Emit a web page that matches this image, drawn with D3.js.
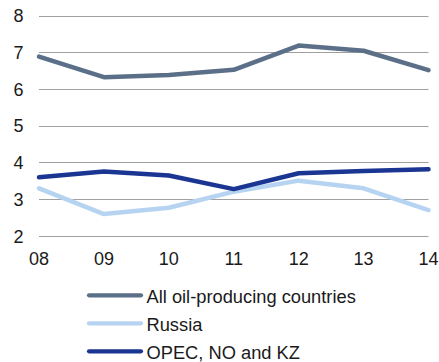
<!DOCTYPE html>
<html>
<head>
<meta charset="utf-8">
<script src="https://cdn.jsdelivr.net/npm/d3@7"></script>
<style>
  html, body { margin: 0; padding: 0; background: #fff; }
  svg text { font-family: "Liberation Sans", Arial, sans-serif; fill: #1a1a1a; }
</style>
</head>
<body>
<svg id="chart" width="439" height="362"></svg>
<script>
const years = ["08", "09", "10", "11", "12", "13", "14"];
const yTicks = [2, 3, 4, 5, 6, 7, 8];
const allOil = [6.88, 6.32, 6.38, 6.52, 7.18, 7.04, 6.51];
const russia = [3.29, 2.59, 2.76, 3.20, 3.50, 3.29, 2.70];
const opec = [3.59, 3.75, 3.64, 3.27, 3.70, 3.76, 3.81];
const seriesNames = ["All oil-producing countries", "Russia", "OPEC, NO and KZ"];
const seriesColors = ["#5b7088", "#b6d4f1", "#1b3593"];

const series = [
  { name: seriesNames[0], values: allOil, color: seriesColors[0] },
  { name: seriesNames[1], values: russia, color: seriesColors[1] },
  { name: seriesNames[2], values: opec, color: seriesColors[2] }
];

const svg = d3.select("#chart");
const plot = { left: 39, right: 428.5, top: 15.5, bottom: 235.7 };

const x = d3.scalePoint().domain(years).range([plot.left, plot.right]);
const y = d3.scaleLinear().domain([2, 8]).range([plot.bottom, plot.top]);

// horizontal gridlines
svg.append("g").selectAll("line").data(yTicks).join("line")
  .attr("x1", plot.left).attr("x2", plot.right)
  .attr("y1", d => Math.round(y(d)) + 0.5).attr("y2", d => Math.round(y(d)) + 0.5)
  .attr("stroke", "#a0a0a0").attr("stroke-width", 1);

// y tick labels
svg.append("g").selectAll("text").data(yTicks).join("text")
  .attr("x", 23.5).attr("y", d => y(d) + 6.8)
  .attr("text-anchor", "end").attr("font-size", 18)
  .text(d => d);

// x tick labels
svg.append("g").selectAll("text").data(years).join("text")
  .attr("x", d => x(d)).attr("y", 265)
  .attr("text-anchor", "middle").attr("font-size", 18)
  .text(d => d);

const line = d3.line().x((d, i) => x(years[i])).y(d => y(d));

svg.append("g").selectAll("path").data(series).join("path")
  .attr("d", d => line(d.values))
  .attr("fill", "none").attr("stroke", d => d.color)
  .attr("stroke-width", 4.5).attr("stroke-linejoin", "round").attr("stroke-linecap", "round");

// legend
const lg = svg.append("g").selectAll("g").data(series).join("g")
  .attr("transform", (d, i) => `translate(0, ${295.3 + i * 28})`);
lg.append("line").attr("x1", 89).attr("x2", 141).attr("y1", 0).attr("y2", 0)
  .attr("stroke", d => d.color).attr("stroke-width", 4.2).attr("stroke-linecap", "round");
lg.append("text").attr("x", 146.5).attr("y", 7.8).attr("font-size", 18.3)
  .text(d => d.name);
</script>
</body>
</html>
